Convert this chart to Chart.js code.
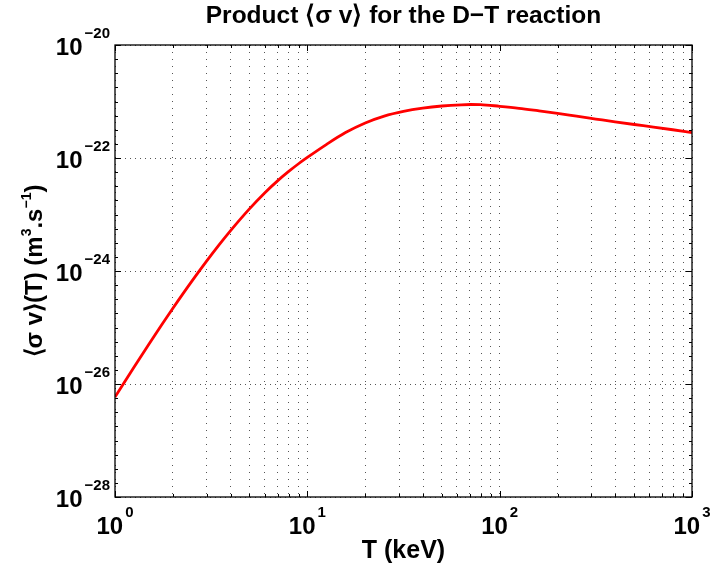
<!DOCTYPE html>
<html>
<head>
<meta charset="utf-8">
<script src="https://cdn.jsdelivr.net/npm/chart.js@4/dist/chart.umd.min.js"></script>
<style>
  body { margin: 0; background: #fff; }
  canvas { display: block; }
</style>
</head>
<body>
<canvas id="grafico" width="711" height="572"></canvas>
<script>
// temperatura (keV) e taxa de reação <sigma v> (m^3/s)
const temperaturas = [1, 1.25, 1.5, 1.75, 2, 2.5, 3, 3.5, 4, 5, 6, 7, 8, 9, 10,
  12.6, 15.8, 20, 25.1, 31.6, 39.8, 50.1, 63.1, 70.8, 79.4, 100,
  126, 158, 200, 251, 316, 398, 501, 631, 794, 1000];
const sigmaV = [5.89e-27, 1.94e-26, 5.06e-26, 1.12e-25, 2.19e-25, 6.48e-25, 1.51e-24, 2.99e-24, 5.25e-24, 1.26e-23,
  2.41e-23, 3.94e-23, 5.78e-23, 7.91e-23, 1.023e-22,
  1.746e-22, 2.818e-22, 4.169e-22, 5.521e-22, 6.683e-22, 7.621e-22, 8.318e-22, 8.75e-22, 8.851e-22, 8.81e-22, 8.222e-22,
  7.586e-22, 6.871e-22, 6.166e-22, 5.495e-22, 4.898e-22, 4.365e-22, 3.917e-22, 3.532e-22, 3.162e-22, 2.818e-22];

// ticks
const xTicks = [1, 2, 3, 4, 5, 6, 7, 8, 9, 10, 20, 30, 40, 50, 60, 70, 80, 90, 100, 200, 300, 400, 500, 600, 700, 800, 900, 1000];
const xMajor = [1, 10, 100, 1000];
const xExpoentes = ['0', '1', '2', '3'];
const yMajor = [1e-28, 1e-26, 1e-24, 1e-22, 1e-20];
const yExpoentes = ['\u221228', '\u221226', '\u221224', '\u221222', '\u221220'];

const FONTE = '"Liberation Sans", Arial, Helvetica, sans-serif';

function potencia(ctx, exp, x, y, align) {
  ctx.font = 'bold 24px ' + FONTE;
  const w1 = ctx.measureText('10').width;
  ctx.font = 'bold 15px ' + FONTE;
  const w2 = ctx.measureText(exp).width + 2;
  let x0 = x - (w1 + w2) / 2;
  if (align === 'right') x0 = x - w1 - w2;
  ctx.textAlign = 'left';
  ctx.textBaseline = 'alphabetic';
  ctx.font = 'bold 24px ' + FONTE;
  ctx.fillText('10', x0, y);
  ctx.font = 'bold 15px ' + FONTE;
  ctx.fillText(exp, x0 + w1 + 2, y - 17);
}

// texto com expoentes: [texto, sobrescrito?]
function textoRico(ctx, partes, cx, y, tam) {
  let total = 0;
  partes.forEach(p => {
    ctx.font = 'bold ' + (p[1] ? Math.round(tam * 0.6) : tam) + 'px ' + FONTE;
    total += ctx.measureText(p[0]).width;
  });
  let x = cx - total / 2;
  ctx.textAlign = 'left';
  ctx.textBaseline = 'alphabetic';
  partes.forEach(p => {
    ctx.font = 'bold ' + (p[1] ? Math.round(tam * 0.6) : tam) + 'px ' + FONTE;
    ctx.fillText(p[0], x, p[1] ? y - tam * 0.45 : y);
    x += ctx.measureText(p[0]).width;
  });
}

const eixos = {
  id: 'eixos',
  afterDraw(chart) {
    const ctx = chart.ctx;
    const a = chart.chartArea;
    const sx = chart.scales.x, sy = chart.scales.y;
    ctx.save();
    ctx.fillStyle = '#000';
    ctx.strokeStyle = '#000';

    // ticks para dentro
    ctx.lineWidth = 1;
    ctx.beginPath();
    xTicks.forEach(v => {
      const px = Math.round(sx.getPixelForValue(v)) + 0.5;
      const len = xMajor.includes(v) ? 6 : 3;
      ctx.moveTo(px, a.bottom); ctx.lineTo(px, a.bottom - len);
      ctx.moveTo(px, a.top); ctx.lineTo(px, a.top + len);
    });
    for (let e = -28; e <= -20; e += 0.25) {
      const py = Math.round(sy.getPixelForValue(Math.pow(10, e))) + 0.5;
      const len = (Math.abs(e % 2) < 1e-9) ? 6 : 3;
      ctx.moveTo(a.left, py); ctx.lineTo(a.left + len, py);
      ctx.moveTo(a.right, py); ctx.lineTo(a.right - len, py);
    }
    ctx.stroke();

    // caixa
    ctx.lineWidth = 1.3;
    ctx.strokeRect(a.left, a.top, a.right - a.left, a.bottom - a.top);

    // rótulos
    xMajor.forEach((v, i) => potencia(ctx, xExpoentes[i], sx.getPixelForValue(v), a.bottom + 37, 'center'));
    yMajor.forEach((v, i) => potencia(ctx, yExpoentes[i], a.left - 5, sy.getPixelForValue(v) + 9.5, 'right'));

    const cx = (a.left + a.right) / 2;
    textoRico(ctx, [['Product \u27E8\u03C3 v\u27E9 for the D\u2212T reaction', false]], cx, 23, 24.5);
    textoRico(ctx, [['T (keV)', false]], cx, 558, 25);

    ctx.translate(42, (a.top + a.bottom) / 2);
    ctx.rotate(-Math.PI / 2);
    textoRico(ctx, [['\u27E8\u03C3 v\u27E9(T) (m', false], ['3', true], ['.s', false], ['\u22121', true], [')', false]], 0, 0, 24);
    ctx.restore();
  }
};

new Chart(document.getElementById('grafico'), {
  type: 'scatter',
  data: {
    datasets: [{
      data: temperaturas.map((t, i) => ({ x: t, y: sigmaV[i] })),
      showLine: true,
      borderColor: '#ff0000',
      borderWidth: 2.8,
      pointRadius: 0,
      cubicInterpolationMode: 'monotone',
      fill: false
    }]
  },
  options: {
    responsive: false,
    animation: false,
    layout: { padding: { left: 115, right: 19, top: 45, bottom: 75 } },
    plugins: { legend: { display: false }, tooltip: { enabled: false } },
    scales: {
      x: {
        type: 'logarithmic',
        min: 1, max: 1000,
        afterBuildTicks: s => { s.ticks = xTicks.map(v => ({ value: v })); },
        ticks: { display: false },
        grid: { drawTicks: false, color: '#555', lineWidth: 1 },
        border: { display: false, dash: [1, 6] }
      },
      y: {
        type: 'logarithmic',
        min: 1e-28, max: 1e-20,
        afterBuildTicks: s => { s.ticks = yMajor.map(v => ({ value: v })); },
        ticks: { display: false },
        grid: { drawTicks: false, color: '#555', lineWidth: 1 },
        border: { display: false, dash: [1, 4] }
      }
    }
  },
  plugins: [eixos]
});
</script>
</body>
</html>
